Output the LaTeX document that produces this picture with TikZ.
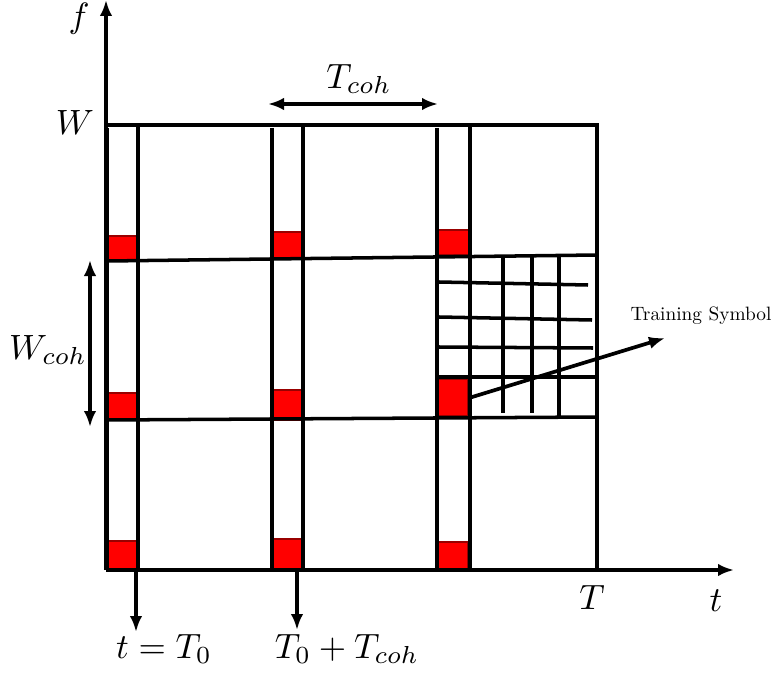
\documentclass[tikz,border=0pt]{standalone}
\usetikzlibrary{arrows.meta}
\usetikzlibrary{positioning}

\tikzset{
  axis/.style={line width=1.05pt,-{Latex[length=1.6mm,width=1.25mm]}},
  twoway/.style={line width=1pt,{Latex[length=1.6mm,width=1.25mm]}-{Latex[length=1.6mm,width=1.25mm]}},
  gridline/.style={line width=1pt},
  pilot/.style={fill=red,draw=red!60!black,line width=0.3pt},
}

\begin{document}
\begin{tikzpicture}[x=0.1mm,y=-0.1mm]
\useasboundingbox (0,0) rectangle (779,675);

%---------------------------------------
% Pilot squares (drawn first, lines on top)
%---------------------------------------
\foreach \xa/\ya/\xb/\yb in {107/236/138/261, 107/393/138/420, 107/541/138/570,
                             272/232/303/259, 272/390/303/420, 272/539/303/570,
                             437/230/469/255, 437/542/468/570}
  \draw[pilot] (\xa,\ya) rectangle (\xb,\yb);
\node[pilot, inner sep=0pt, minimum width=3mm, minimum height=3.7mm] (train) at (453,397.5) {};

%---------------------------------------
% Axes
%---------------------------------------
\coordinate (O) at (106,570);
\coordinate (ftip) at (106,0);
\coordinate (ttip) at (734,570);
\draw[axis] (O) -- (ftip);
\draw[axis] (O) -- (ttip);
\node (flabel) at (79,19) {$f$};
\node (tlabel) at (716,601) {$t$};

%---------------------------------------
% Frame W x T
%---------------------------------------
\draw[gridline] (107,125) -- (597,125) -- (597,570);
\node (Wlabel) at (75,122) {$W$};
\node (Tlabel) at (592,597) {$T$};

% coherence bands in frequency
\draw[gridline] (107,261) -- (597,255);
\draw[gridline] (107,420) -- (597,417);

% coherence slots in time
\foreach \xl/\xr in {107/138, 272/303, 437/470} {
  \draw[gridline] (\xl,128) -- (\xl,568);
  \draw[gridline] (\xr,127) -- (\xr,570);
}

% fine grid of one block
\foreach \x in {503,532}
  \draw[gridline] (\x,257) -- (\x,413);
\draw[gridline] (559,256) -- (559,417);
\draw[gridline] (439,282) -- (588,285);
\draw[gridline] (439,317) -- (592,320);
\draw[gridline] (439,347) -- (593,348);
\draw[gridline] (439,377) -- (597,377);

%---------------------------------------
% Coherence time / bandwidth
%---------------------------------------
\coordinate (tcohL) at (268,104);
\coordinate (tcohR) at (438,104);
\draw[twoway] (tcohL) -- (tcohR);
\node (Tcoh) at (359,79) {$T_{coh}$};

\coordinate (wcohT) at (90,260);
\coordinate (wcohB) at (90,427);
\draw[twoway] (wcohT) -- (wcohB);
\node (Wcoh) at (48,350) {$W_{coh}$};

%---------------------------------------
% Time marks
%---------------------------------------
\coordinate (mA) at (136,570);
\coordinate (mAend) at (136,632);
\coordinate (mB) at (297,570);
\coordinate (mBend) at (297,630);
\draw[axis] (mA) -- (mAend);
\draw[axis] (mB) -- (mBend);
\node (T0) at (164,649) {$t=T_0$};
\node (T0coh) at (347,649) {$T_0+T_{coh}$};

%---------------------------------------
% Training symbol
%---------------------------------------
\coordinate (tsend) at (665,338);
\draw[axis] ([xshift=0.2mm]train.east) -- (tsend);
\node[scale=0.55] (tslabel) at (701,316) {Training Symbol};

\end{tikzpicture}
\end{document}
